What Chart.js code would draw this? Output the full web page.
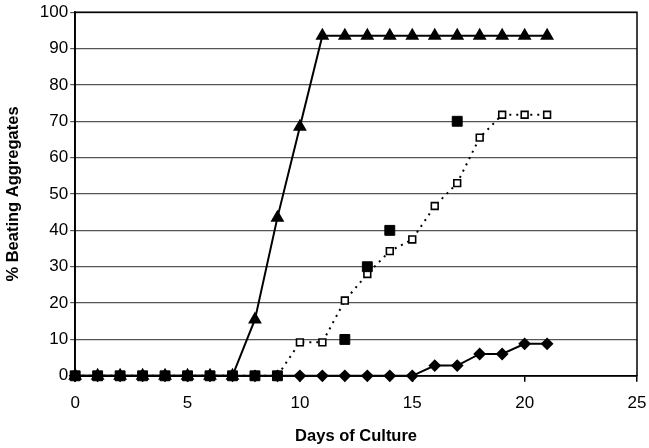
<!DOCTYPE html>
<html>
<head>
<meta charset="utf-8">
<script src="https://cdn.jsdelivr.net/npm/chart.js@4"></script>
<style>
  html, body { margin: 0; padding: 0; background: #fff; }
  #wrap { width: 649px; height: 448px; }
</style>
</head>
<body>
<div id="wrap"><canvas id="beating"></canvas></div>
<script>
/* data */
var days = [0, 1, 2, 3, 4, 5, 6, 7, 8, 9, 10, 11, 12, 13, 14, 15, 16, 17, 18, 19, 20, 21];
var triangleVals = [0, 0, 0, 0, 0, 0, 0, 0, 15.5, 43.5, 68.5, 93.5, 93.5, 93.5, 93.5, 93.5, 93.5, 93.5, 93.5, 93.5, 93.5, 93.5];
var openSquareVals = [0, 0, 0, 0, 0, 0, 0, 0, 0, 0, 9.2, 9.2, 20.7, 28, 34.3, 37.5, 46.7, 53, 65.5, 71.8, 71.8, 71.8];
var diamondVals = [0, 0, 0, 0, 0, 0, 0, 0, 0, 0, 0, 0, 0, 0, 0, 0, 2.8, 2.8, 6, 6, 8.8, 8.8];
var filledDays = [0, 1, 2, 3, 4, 5, 6, 7, 8, 9, 12, 13, 14, 17];
var filledVals = [0, 0, 0, 0, 0, 0, 0, 0, 0, 0, 10, 30, 40, 70];
var xTicks = [0, 5, 10, 15, 20, 25];
var yTicks = [0, 10, 20, 30, 40, 50, 60, 70, 80, 90, 100];

function pairs(xs, ys) {
  return xs.map(function (x, i) { return { x: x, y: ys[i] }; });
}

/* box around the plot area */
var plotBox = {
  id: 'plotBox',
  afterDraw: function (chart) {
    var a = chart.chartArea, c = chart.ctx;
    c.save();
    c.strokeStyle = '#000';
    c.lineWidth = 1.5;
    c.strokeRect(a.left, a.top, a.right - a.left, a.bottom - a.top);
    c.restore();
  }
};

var font = 'Liberation Sans, Arial, sans-serif';

// first dataset ends up drawn on top, so the filled squares go first
// clip off: markers sitting on 0 must show whole, like the original
var ctx = document.getElementById('beating');
var myChart = new Chart(ctx, {
  type: 'line',
  data: {
    datasets: [
      {
        data: pairs(filledDays, filledVals),
        showLine: false,
        clip: false,
        pointStyle: 'rect',
        pointRadius: 7,
        backgroundColor: '#000',
        borderColor: '#000',
        borderWidth: 1
      },
      {
        data: pairs(days, triangleVals),
        clip: false,
        borderColor: '#000',
        borderWidth: 2,
        pointStyle: 'triangle',
        pointRadius: 6,
        pointBackgroundColor: '#000',
        pointBorderColor: '#000'
      },
      {
        data: pairs(days, openSquareVals),
        clip: false,
        borderColor: '#000',
        borderWidth: 2,
        borderDash: [2, 5],
        pointStyle: 'rect',
        pointRadius: 4.8,
        pointBorderWidth: 1.6,
        pointBackgroundColor: '#fff',
        pointBorderColor: '#000'
      },
      {
        data: pairs(days, diamondVals),
        clip: false,
        borderColor: '#000',
        borderWidth: 2,
        pointStyle: 'rectRot',
        pointRadius: 5,
        pointBackgroundColor: '#000',
        pointBorderColor: '#000'
      }
    ]
  },
  options: {
    responsive: true,
    maintainAspectRatio: false,
    animation: false,
    layout: { padding: { top: 10, right: 0, left: 2, bottom: 2 } },
    plugins: { legend: { display: false }, tooltip: { enabled: false } },
    scales: {
      x: {
        type: 'linear',
        min: 0,
        max: 25,
        afterBuildTicks: function (axis) { axis.ticks = xTicks.map(function (v) { return { value: v }; }); },
        // tick padding would otherwise push the right edge in
        afterFit: function (axis) { axis.paddingRight = 12; },
        grid: { drawOnChartArea: false, color: '#000', tickLength: 6, lineWidth: 1.5 },
        border: { color: '#000', width: 1.5 },
        ticks: { color: '#000', font: { family: font, size: 17 }, padding: 11, maxRotation: 0 },
        title: { display: true, text: 'Days of Culture', color: '#000', font: { family: font, size: 16.5, weight: 'bold' }, padding: { top: 2, bottom: 0 } }
      },
      y: {
        min: 0,
        max: 100,
        afterBuildTicks: function (axis) { axis.ticks = yTicks.map(function (v) { return { value: v }; }); },
        grid: { color: '#555', lineWidth: 1.2, tickLength: 5 },
        border: { color: '#000', width: 1.5 },
        ticks: { color: '#000', font: { family: font, size: 17 }, padding: 2 },
        title: { display: true, text: '% Beating Aggregates', color: '#000', font: { family: font, size: 16.5, weight: 'bold' }, padding: { top: 2, bottom: 14 } }
      }
    }
  },
  plugins: [plotBox]
});
</script>
</body>
</html>
